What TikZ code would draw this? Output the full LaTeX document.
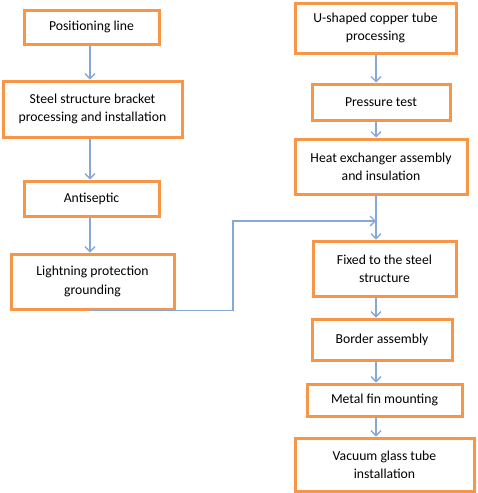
\documentclass[tikz,border=0pt]{standalone}
\usepackage{fontspec}
\setmainfont{Carlito}
\usetikzlibrary{arrows.meta}

\definecolor{boxorange}{HTML}{F79646}
\definecolor{flowblue}{HTML}{86A8D6}

\begin{document}
\begin{tikzpicture}[x=1pt, y=-1pt,
	step box/.style={draw=boxorange, line width=3pt, fill=white, align=center,
		inner sep=0pt, font=\fontsize{13.7}{18.3}\selectfont},
	flow/.style={draw=flowblue, line width=1.3pt, -{Straight Barb[length=5pt,width=10pt]}}]
		\useasboundingbox (0,0) rectangle (477,493);

		% left column
		\node[step box, minimum width=135pt, minimum height=34pt] (pos) at (91.5,27) {Positioning line};
		\node[step box, minimum width=179pt, minimum height=56pt] (steel) at (92.5,109) {Steel structure bracket\\processing and installation};
		\node[step box, minimum width=135pt, minimum height=35pt] (anti) at (91.5,198.5) {Antiseptic};
		\node[step box, minimum width=163pt, minimum height=55pt] (light) at (92.5,281.5) {Lightning protection\\grounding};

		% right column
		\node[step box, minimum width=161pt, minimum height=50pt] (tube) at (375.5,28) {U-shaped copper tube\\processing};
		\node[step box, minimum width=138pt, minimum height=36pt] (press) at (381,102) {Pressure test};
		\node[step box, minimum width=172pt, minimum height=55pt] (heat) at (381,166.5) {Heat exchanger assembly\\and insulation};
		\node[step box, minimum width=143pt, minimum height=55pt] (fixed) at (384.5,268.5) {Fixed to the steel\\structure};
		\node[step box, minimum width=140pt, minimum height=41pt] (border) at (382,339.5) {Border assembly};
		\node[step box, minimum width=155pt, minimum height=32pt] (fin) at (384.5,400) {Metal fin mounting};
		\node[step box, minimum width=179pt, minimum height=53pt] (glass) at (384.5,464.5) {Vacuum glass tube\\installation};

		\coordinate (lx) at (90,0);
		\coordinate (rx) at (376,0);
		\coordinate (bend) at (233,221);

		\draw[flow] (pos.south -| lx) -- (steel.north -| lx);
		\draw[flow] (steel.south -| lx) -- (anti.north -| lx);
		\draw[flow] (anti.south -| lx) -- (light.north -| lx);
		\draw[flow] (light.south -| lx) -| (bend) -- (bend -| rx);

		\draw[flow] (tube.south -| rx) -- (press.north -| rx);
		\draw[flow] (press.south -| rx) -- (heat.north -| rx);
		\draw[flow] (heat.south -| rx) -- (fixed.north -| rx);
		\draw[flow] (fixed.south -| rx) -- (border.north -| rx);
		\draw[flow] (border.south -| rx) -- (fin.north -| rx);
		\draw[flow] (fin.south -| rx) -- (glass.north -| rx);
	\end{tikzpicture}
\end{document}
